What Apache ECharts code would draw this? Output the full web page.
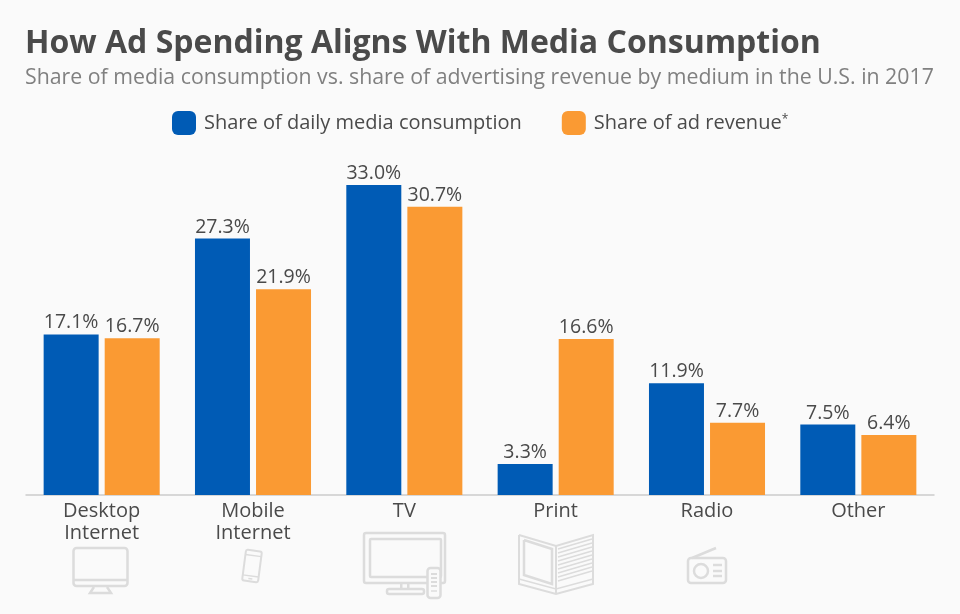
<!DOCTYPE html>
<html>
<head>
<meta charset="utf-8">
<title>How Ad Spending Aligns With Media Consumption</title>
<script src="https://cdn.jsdelivr.net/npm/echarts@6/dist/echarts.min.js"></script>
<style>
html, body { margin: 0; padding: 0; background: #fafafa; }
#chart { width: 960px; height: 614px; }
</style>
</head>
<body>
<div id="chart"></div>
<script>
var categories = ['Desktop\nInternet', 'Mobile\nInternet', 'TV', 'Print', 'Radio', 'Other'];
var consumption = [17.1, 27.3, 33.0, 3.3, 11.9, 7.5];
var adRevenue = [16.7, 21.9, 30.7, 16.6, 7.7, 6.4];

var FONT = '"Open Sans", sans-serif';
var ICON = '#dcdcdc';

// small helpers for the grey pictograms under the axis
function box(x, y, w, h, lw, r) {
	return { type: 'rect', silent: true, shape: { x: x, y: y, width: w, height: h, r: r || 1 }, style: { fill: 'none', stroke: ICON, lineWidth: lw } };
}
function solid(x, y, w, h, r) {
	return { type: 'rect', silent: true, shape: { x: x, y: y, width: w, height: h, r: r || 0 }, style: { fill: ICON } };
}
function line(pts, lw) {
	return { type: 'polyline', silent: true, shape: { points: pts }, style: { fill: 'none', stroke: ICON, lineWidth: lw } };
}

var icons = [
	// desktop
	box(73.5, 548, 54, 38, 2.5, 3),
	line([[73, 580], [128, 580]], 2.5),
	line([[94, 587], [90, 593], [111, 593], [107, 587]], 2.5),
	// phone
	{ type: 'group', x: 252, y: 566, rotation: -0.13, silent: true, children: [
		box(-8, -15.5, 16, 31, 2, 2),
		line([[-8, -10.5], [8, -10.5]], 1.5),
		line([[-8, 10], [8, 10]], 1.5),
		line([[-2, 12.8], [2, 12.8]], 1.5)
	] },
	// tv
	box(364, 533, 81, 50, 2.5, 2),
	box(370, 539, 71, 38, 2.5, 0),
	solid(400, 583, 2.5, 6),
	solid(407, 583, 2.5, 6),
	box(387, 589, 37, 5, 2.5, 2),
	{ type: 'rect', silent: true, shape: { x: 427.5, y: 568, width: 13, height: 30, r: 3 }, style: { fill: '#fafafa', stroke: ICON, lineWidth: 2.5 } },
	line([[431, 574], [437, 574]], 2),
	line([[431, 578], [437, 578]], 2),
	line([[431, 582], [437, 582]], 2),
	line([[431, 586], [437, 586]], 2),
	line([[431, 591], [437, 591]], 1.5),
	// print
	line([[519, 535], [556, 546], [593, 535], [593, 584], [556, 594], [519, 584], [519, 535]], 2),
	line([[524, 540], [552, 549], [552, 584], [524, 575], [524, 540]], 2.5),
	line([[556, 546], [556, 594]], 2),
	line([[558, 549], [592, 539]], 1.5),
	line([[558, 553], [592, 543]], 1.5),
	line([[558, 557], [592, 547]], 1.5),
	line([[558, 561], [592, 551]], 1.5),
	line([[558, 565], [592, 555]], 1.5),
	line([[558, 569], [592, 559]], 1.5),
	line([[558, 573], [592, 563]], 1.5),
	line([[558, 577], [592, 567]], 1.5),
	line([[558, 581], [592, 571]], 1.5),
	line([[519, 579], [556, 589], [593, 579]], 1.5),
	// radio
	box(688, 558, 38, 25, 2.5, 3),
	line([[692, 558], [716, 548]], 2.5),
	{ type: 'circle', silent: true, shape: { cx: 701, cy: 571, r: 7 }, style: { fill: 'none', stroke: ICON, lineWidth: 2.5 } },
	line([[713, 565], [722, 565]], 2.5),
	line([[713, 571], [722, 571]], 2.5),
	line([[713, 576], [722, 576]], 2.5)
];

var labelStyle = {
	show: true,
	position: 'top',
	distance: 1.5,
	color: '#4a4a4a',
	fontFamily: FONT,
	fontSize: 19.5,
	formatter: function (p) { return p.value.toFixed(1) + '%'; }
};

var myChart = echarts.init(document.getElementById('chart'), null, { renderer: 'canvas' });

myChart.setOption({
	backgroundColor: '#fafafa',
	animation: false,
	title: [
		{ text: 'How Ad Spending Aligns With Media Consumption', left: 20, top: 23, textStyle: { fontFamily: FONT, fontSize: 32, fontWeight: 'bold', color: '#4a4a4a' } },
		{ text: 'Share of media consumption vs. share of advertising revenue by medium in the U.S. in 2017', left: 20, top: 62, textStyle: { fontFamily: FONT, fontSize: 21.3, fontWeight: 'normal', color: '#808080' } }
	],
	legend: {
		left: 167,
		top: 106,
		itemWidth: 24,
		itemHeight: 24,
		itemGap: 40,
		icon: 'roundRect',
		textStyle: {
			fontFamily: FONT,
			fontSize: 20,
			color: '#4a4a4a',
			padding: [0, 0, 0, 3],
			rich: {
				t: { fontFamily: FONT, fontSize: 20, color: '#4a4a4a' },
				s: { fontFamily: FONT, fontSize: 12, color: '#4a4a4a', padding: [0, 0, 6, 0] }
			}
		},
		formatter: function (name) {
			if (name.slice(-1) === '*') {
				return '{t|' + name.slice(0, -1) + '}{s|*}';
			}
			return name;
		}
	},
	grid: { left: 26, right: 26, top: 166.3, height: 328.7 },
	xAxis: {
		type: 'category',
		data: categories,
		axisTick: { show: false },
		axisLine: { lineStyle: { color: '#cccccc', width: 1.5 } },
		axisLabel: { color: '#4a4a4a', fontFamily: FONT, fontSize: 20, lineHeight: 22, margin: 5, interval: 0 }
	},
	yAxis: { type: 'value', min: 0, max: 35, show: false, splitLine: { show: false } },
	series: [
		{
			name: 'Share of daily media consumption',
			type: 'bar',
			data: consumption,
			barWidth: 55,
			barGap: '11%',
			itemStyle: { color: '#005bb5' },
			label: labelStyle
		},
		{
			name: 'Share of ad revenue*',
			type: 'bar',
			data: adRevenue,
			barWidth: 55,
			itemStyle: { color: '#fa9a33' },
			label: labelStyle
		}
	],
	graphic: icons
});
</script>
</body>
</html>
